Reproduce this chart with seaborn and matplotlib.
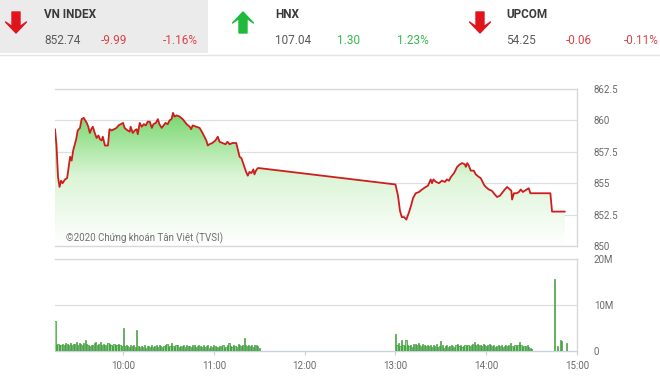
import numpy as np
import pandas as pd
import matplotlib
matplotlib.use("Agg")
import matplotlib.pyplot as plt
import seaborn as sns
from matplotlib.colors import LinearSegmentedColormap
from matplotlib.patches import Polygon, Rectangle

# ---------------- data ----------------
# header indices
idx_names = ["VN INDEX", "HNX", "UPCOM"]
idx_values = ["852.74", "107.04", "54.25"]
idx_changes = ["-9.99", "1.30", "-0.06"]
idx_pcts = ["-1.16%", "1.23%", "-0.11%"]
idx_up = [False, True, False]

# intraday VN-Index (minutes after 09:00, price)
price_min = [15, 16, 17, 18, 19, 20, 21.6, 23, 25, 26, 27, 29, 30, 31.5, 32.6, 34, 36, 37, 38, 39,
             40, 41, 42.5, 43.7, 44.7, 45.8, 46.6, 48, 50, 51, 52.5, 54, 55.6, 57, 58.5, 60, 61, 62,
             63, 64.4, 65, 66.4, 67.7, 69, 69.7, 71, 72.3, 73.7, 75, 76.3, 77.6, 79, 80, 81.6, 83, 84,
             85.5, 86.8, 88, 89.5, 90.7, 92, 93, 94, 95.4, 97.4, 99.4, 100.7, 102, 104, 105, 106, 108.4,
             110.6, 112.5, 115, 116, 117, 119, 121, 122.6, 123.7, 125.7, 127.7, 129, 130.4, 132.3, 134.8,
             135.6, 137, 138.2, 139.6, 141.3, 142.4, 143.5, 144.8, 146.1, 146.8, 147.8, 149, 150,
             240, 241.7, 243, 244.2, 245.7, 247.2, 249, 250.3, 251.6, 253.4, 255.6, 257.6, 260, 261.5,
             263.3, 264.2, 265.1, 266.8, 268.8, 270.7, 272.7, 274, 275.4, 276.7, 278.7, 280.8, 282.6,
             284.1, 285.9, 286.5, 287.5, 288.5, 289.8, 291.8, 293.1, 295.1, 296.4, 298.4, 299.7, 301.7,
             303.7, 305.7, 307.2, 309, 311, 312.3, 313.8, 315.6, 316.6, 317.1, 318.3, 320.2, 321.6,
             322.8, 324.2, 325.5, 326.8, 328.1, 329.2, 342.4, 343.5, 352]
price_val = [859.3, 858.0, 855.5, 854.7, 855.2, 855.0, 855.3, 855.4, 857.1, 856.8, 857.6, 858.5, 859.2,
             859.4, 860.1, 860.2, 859.8, 859.5, 859.0, 859.3, 859.5, 859.1, 858.6, 858.8, 858.5, 858.4,
             858.7, 858.0, 858.0, 859.3, 859.2, 859.3, 859.4, 859.6, 859.7, 859.8, 859.4, 859.3, 859.2,
             859.1, 859.5, 859.0, 859.2, 859.3, 858.9, 859.8, 859.5, 859.7, 859.6, 859.9, 859.9, 859.4,
             859.7, 859.8, 860.1, 859.7, 859.4, 859.6, 859.8, 859.7, 860.0, 860.1, 860.6, 860.3, 860.4,
             860.3, 860.1, 859.9, 859.7, 859.5, 859.3, 859.6, 859.5, 859.4, 859.0, 858.4, 858.0, 858.1,
             858.2, 858.4, 858.7, 858.3, 858.2, 858.1, 858.3, 858.1, 858.2, 858.2, 857.8, 857.1, 857.0,
             856.5, 855.9, 855.6, 855.9, 855.8, 856.1, 855.7, 856.0, 856.2, 856.2,
             854.9, 854.0, 852.8, 852.3, 852.3, 852.1, 852.7, 853.2, 853.8, 854.2, 854.3, 854.5, 854.7,
             854.8, 855.3, 855.0, 855.3, 855.1, 855.0, 855.2, 855.1, 855.3, 855.2, 855.5, 855.8, 856.3,
             856.5, 856.6, 856.5, 856.3, 856.6, 856.4, 856.0, 856.0, 855.7, 855.5, 855.4, 854.9, 854.7,
             854.5, 854.4, 854.1, 853.9, 854.0, 854.3, 854.5, 854.7, 854.5, 854.4, 853.7, 854.2, 854.2,
             854.3, 854.5, 854.3, 854.4, 854.5, 854.6, 854.2, 854.2, 852.74, 852.74]

# per-minute volume (millions of shares)
vol_am_start = 15    # 09:15
vol_am = [6.5,
          1.2, 1.5, 1.4, 1.3, 1.6, 1.2, 1.7, 1.5, 1.4, 1.8, 1.3, 1.6, 1.5, 1.9, 1.4,
          1.7, 1.5, 1.3, 1.8, 2.3, 1.6, 1.2, 1.1, 1.4, 1.3, 1.7, 1.9, 1.2, 1.5, 2.0,
          1.3, 1.6, 1.4, 1.2, 1.8, 1.5, 1.3, 1.1, 1.6, 1.4, 1.2, 1.5, 1.3, 1.0,
          4.9,
          1.1, 1.4, 1.0, 0.9, 1.2, 1.0, 1.3, 0.8,
          4.5,
          1.0, 0.8, 1.1, 0.9, 1.2, 0.7, 1.0, 1.1, 0.9, 1.3, 0.8, 1.0, 1.2, 0.9, 1.4, 1.1, 0.8, 1.0,
          1.3, 1.5, 0.9, 1.1, 1.8, 1.0, 0.9, 1.2, 1.3, 0.8, 1.0, 1.1, 1.2,
          0.9, 1.3, 1.0, 1.1, 0.8, 1.2, 1.4, 0.9, 1.0, 1.3, 1.1, 0.8, 1.2, 0.9, 1.0, 1.3, 0.7, 1.1,
          0.9, 1.2, 1.0, 0.8, 0.9, 1.1, 1.0, 1.3, 0.7, 0.9, 1.2, 1.8, 1.0, 0.8, 1.4, 1.1, 0.9, 1.6,
          1.2, 1.0, 1.3,
          2.8,
          1.2, 1.0, 1.4, 1.1, 1.3, 0.9, 1.2, 1.4, 1.0, 0.6]
vol_pm_start = 240   # 13:00
vol_pm = [3.6,
          1.2, 1.8, 1.0, 2.5, 1.4, 1.1, 2.3, 1.3, 1.0, 1.2, 0.9, 1.5, 1.6, 1.3, 1.7, 1.2, 1.0, 1.5, 1.3, 1.1,
          1.4, 1.0, 1.2, 0.9, 1.3, 1.1, 1.5, 0.8, 1.0, 2.2, 1.2, 0.7, 1.0, 1.3, 0.9, 1.1, 1.4, 1.0, 0.8,
          1.2, 1.5, 1.0, 1.3, 0.9, 1.1, 1.2, 1.0, 1.4, 1.1, 1.3,
          1.5, 2.0, 1.2, 1.6, 1.4, 1.3, 1.1, 1.5, 1.2, 1.0, 1.4, 1.6, 1.2, 1.0, 1.3, 0.9, 1.1, 1.4, 1.0,
          1.2, 0.8, 1.1, 1.3, 1.0, 1.2, 1.8, 1.1, 0.9, 1.4, 1.0, 1.2, 2.0, 1.3, 0.8, 1.0, 1.1, 1.2, 0.9,
          0.6, 0.5]
vol_late_min = [345, 347, 349, 350, 353]
vol_late = [15.6, 1.0, 2.3, 2.2, 1.8]

price_ticks = [850, 852.5, 855, 857.5, 860, 862.5]
price_tick_labels = ["850", "852.5", "855", "857.5", "860", "862.5"]
vol_ticks = [0, 10, 20]
vol_tick_labels = ["0", "10M", "20M"]
time_tick_labels = ["10:00", "11:00", "12:00", "13:00", "14:00", "15:00"]
time_ticks = [60, 120, 180, 240, 300, 360]
watermark = "©2020 Chứng khoán Tân Việt (TVSI)"

# ---------------- figure ----------------
sns.set_theme(style="white")
plt.rcParams["font.family"] = ["Roboto", "DejaVu Sans"]

W, H = 660, 381
fig = plt.figure(figsize=(W / 100, H / 100), dpi=100)
fig.patch.set_facecolor("white")


def fx(x):
    return x / W


def fy(y):
    return 1 - y / H


# header background and separator
fig.patches.append(Rectangle((0, fy(53)), fx(208), fy(0) - fy(53), transform=fig.transFigure,
                             facecolor="#ebebeb", edgecolor="none", zorder=0))
fig.lines.append(plt.Line2D([0, 1], [fy(55), fy(55)], transform=fig.transFigure,
                            color="#e4e4e4", lw=1.0))

RED = "#e0141b"
GREEN = "#1fba3c"
TXT_RED = "#d9434a"
TXT_GREEN = "#35b94a"


def arrow(cx, top, bot, up, color):
    sw = 4.0   # half shaft width
    hw = 10.5  # half head width
    hl = 11.0  # head length
    nd = 4.5   # notch depth
    if up:
        pts = [(cx, top), (cx + hw, top + hl), (cx + sw, top + hl - nd), (cx + sw, bot),
               (cx - sw, bot), (cx - sw, top + hl - nd), (cx - hw, top + hl)]
    else:
        pts = [(cx, bot), (cx + hw, bot - hl), (cx + sw, bot - hl + nd), (cx + sw, top),
               (cx - sw, top), (cx - sw, bot - hl + nd), (cx - hw, bot - hl)]
    pts = [(fx(a), fy(b)) for a, b in pts]
    fig.patches.append(Polygon(pts, closed=True, transform=fig.transFigure,
                               facecolor=color, edgecolor=color, lw=1.0, zorder=2,
                               joinstyle="round"))


arrow_x = [16, 243, 480]
name_x = [44, 275, 506]
chg_x = [101, 337, 566]
pct_x = [163, 397, 624]
for i in range(3):
    arrow(arrow_x[i], 12, 33, idx_up[i], GREEN if idx_up[i] else RED)
    fig.text(fx(name_x[i]), fy(15), idx_names[i], fontsize=8.5, fontweight="bold",
             color="#3a3a3a", va="center", ha="left")
    fig.text(fx(name_x[i]), fy(40), idx_values[i], fontsize=8.5, color="#5a5a5a",
             va="center", ha="left")
    c = TXT_GREEN if idx_up[i] else TXT_RED
    fig.text(fx(chg_x[i]), fy(40), idx_changes[i], fontsize=8.5, color=c,
             va="center", ha="left")
    fig.text(fx(pct_x[i]), fy(40), idx_pcts[i], fontsize=8.5, color=c,
             va="center", ha="left")

# ---------------- price panel ----------------
ax = fig.add_axes([fx(55), fy(246), fx(577) - fx(55), fy(89) - fy(246)])
df = pd.DataFrame({"minute": price_min, "price": price_val})

poly = ax.fill_between(df["minute"], df["price"], 850, color="none", lw=0)
cmap = LinearSegmentedColormap.from_list("g", ["#ffffff", "#dcf5d7", "#6cd462"])
grad = np.linspace(1, 0, 256).reshape(-1, 1)
im = ax.imshow(grad, extent=[15, 360, 850, 861.0], aspect="auto", cmap=cmap,
               origin="upper", zorder=1)
im.set_clip_path(poly.get_paths()[0], transform=ax.transData)

sns.lineplot(data=df, x="minute", y="price", ax=ax, color="#cf1d1d", linewidth=1.3,
             zorder=3, estimator=None, sort=False)

ax.set_xlim(15, 360)
ax.set_ylim(850, 862.5)
ax.set_yticks(price_ticks)
ax.set_yticklabels(price_tick_labels)
ax.yaxis.tick_right()
ax.tick_params(axis="y", length=0, pad=12, labelsize=7, labelcolor="#6a6a6a")
ax.set_xticks([])
ax.set_xlabel("")
ax.set_ylabel("")
for y in [852.5, 855, 857.5, 860]:
    ax.axhline(y, color="#dedede", lw=0.9, zorder=0.5)
for s in ["top", "right", "bottom"]:
    ax.spines[s].set_color("#d8d8d8")
    ax.spines[s].set_linewidth(1.0)
ax.spines["left"].set_visible(False)
for lbl in ax.get_yticklabels():
    lbl.set_horizontalalignment("left")
ax.text(22, 850.65, watermark, fontsize=7, color="#6f6f6f", ha="left", va="center", zorder=4)

# ---------------- volume panel ----------------
axv = fig.add_axes([fx(55), fy(351), fx(577) - fx(55), fy(259) - fy(351)])
am_min = [vol_am_start + i for i in range(len(vol_am))]
pm_min = [vol_pm_start + i for i in range(len(vol_pm))]
vmins = am_min + pm_min + vol_late_min
vvals = vol_am + vol_pm + vol_late
axv.bar(vmins, vvals, width=0.75, color="#8fd885", edgecolor="#2f8f2f", linewidth=0.45,
        zorder=3)
axv.set_xlim(15, 360)
axv.set_ylim(0, 20)
axv.set_yticks(vol_ticks)
axv.set_yticklabels(vol_tick_labels)
axv.yaxis.tick_right()
axv.tick_params(axis="y", length=0, pad=12, labelsize=7, labelcolor="#6a6a6a")
for lbl in axv.get_yticklabels():
    lbl.set_horizontalalignment("left")
axv.set_xticks(time_ticks)
axv.set_xticklabels(time_tick_labels)
axv.tick_params(axis="x", length=3, width=0.8, color="#cccccc", pad=4, labelsize=7,
                labelcolor="#6a6a6a", bottom=True)
axv.axhline(10, color="#dedede", lw=0.9, zorder=0.5)
for s in ["top", "right"]:
    axv.spines[s].set_color("#d8d8d8")
    axv.spines[s].set_linewidth(1.0)
axv.spines["bottom"].set_color("#c9d3df")
axv.spines["bottom"].set_linewidth(1.0)
axv.spines["left"].set_visible(False)
axv.grid(False)
ax.grid(False)

fig.savefig("out.png", dpi=100)
